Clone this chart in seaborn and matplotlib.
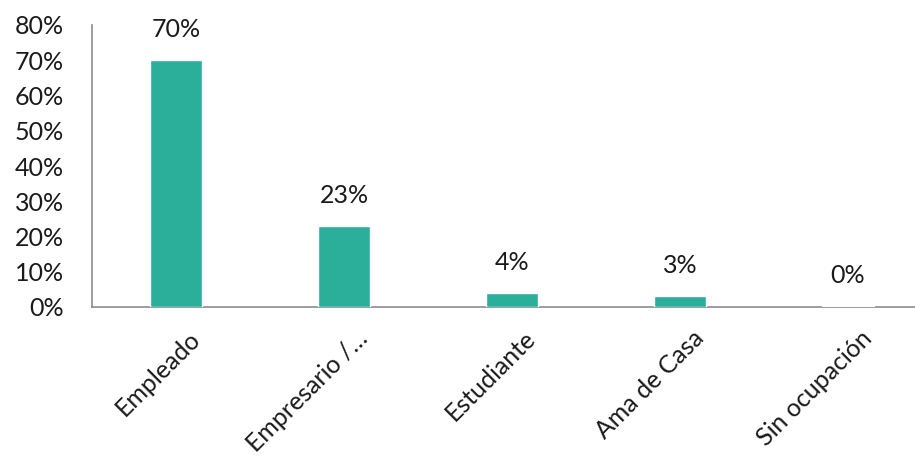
import matplotlib
matplotlib.use("Agg")
import matplotlib.pyplot as plt
import matplotlib.transforms as mtransforms
import seaborn as sns
import pandas as pd

categories = ["Empleado", "Empresario /…", "Estudiante", "Ama de Casa", "Sin ocupación"]
shares = [0.70, 0.23, 0.04, 0.03, 0.002]
y_ticks = [0.0, 0.1, 0.2, 0.3, 0.4, 0.5, 0.6, 0.7, 0.8]

sns.set_theme(style="white")
plt.rcParams["font.family"] = ["Lato", "DejaVu Sans"]

df = pd.DataFrame({"ocupacion": categories, "porcentaje": shares})

fig = plt.figure(figsize=(9.15, 4.59), dpi=100)
ax = fig.add_axes([92 / 915, 1 - 307 / 459, 840 / 915, 282 / 459])

sns.barplot(data=df, x="ocupacion", y="porcentaje", color="#2BAE9A",
            saturation=1, width=0.31, ax=ax)
for bar in ax.patches:
    bar.set_zorder(3)

ax.set_ylim(0, 0.8)
ax.set_xlim(-0.5, len(categories) - 0.5)
ax.set_yticks(y_ticks)
ax.set_yticklabels([f"{t:.0%}" for t in y_ticks], fontsize=18, color="#1a1a1a")
ax.set_xlabel("")
ax.set_ylabel("")
ax.tick_params(axis="y", length=0, pad=20)
ax.tick_params(axis="x", length=0, pad=14)

# rotated category labels, nudged so their ends sit just right of each bar centre
shift = mtransforms.ScaledTranslation(12 / 100, 0, fig.dpi_scale_trans)
for lbl in ax.get_xticklabels():
    lbl.set_rotation(45)
    lbl.set_ha("right")
    lbl.set_rotation_mode("anchor")
    lbl.set_fontsize(18)
    lbl.set_color("#1a1a1a")
    lbl.set_transform(lbl.get_transform() + shift)

for side in ["top", "right"]:
    ax.spines[side].set_visible(False)
for side in ["left", "bottom"]:
    ax.spines[side].set_color("#8c8c8c")
    ax.spines[side].set_linewidth(1.2)

for i, v in enumerate(shares):
    ax.text(i, v + 0.055, f"{v:.0%}", ha="center", va="bottom",
            fontsize=18, color="#1a1a1a")

fig.savefig("out.png", dpi=100)
